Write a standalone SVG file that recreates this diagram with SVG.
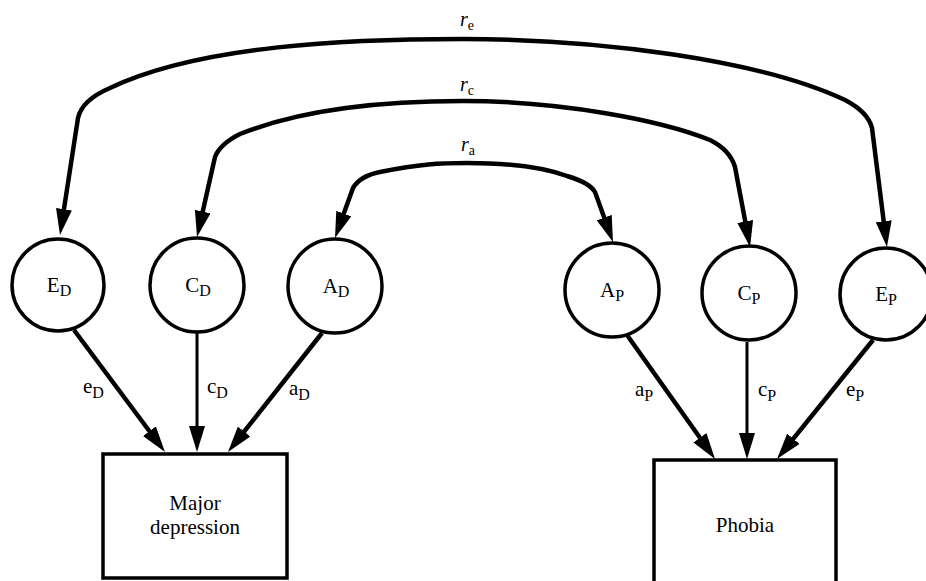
<svg xmlns="http://www.w3.org/2000/svg" width="926" height="581" viewBox="0 0 926 581">
<style>
.n{fill:#fff;stroke:#000;stroke-width:3.5}
.t{font-family:"Liberation Serif","Times New Roman","DejaVu Serif",serif;font-size:21px;fill:#000}
.s{font-size:16px}
.r{font-family:"Liberation Serif","Times New Roman","DejaVu Serif",serif;font-size:20px;font-style:italic;fill:#000}
.rs{font-style:normal;font-size:14px}
.c{fill:none;stroke:#000;stroke-width:4.5;stroke-linejoin:round}
.thin{stroke-width:3}
</style>
<defs>
<marker id="ah" markerUnits="userSpaceOnUse" markerWidth="26" markerHeight="16" viewBox="0 0 26 16" refX="16" refY="8" orient="auto-start-reverse">
<path d="M0,0 L26,8 L0,16 Z" fill="#000"/>
</marker>
</defs>
<rect width="926" height="581" fill="#fff"/>
<g id="connectors">
<path class="c" marker-start="url(#ah)" marker-end="url(#ah)" d="M61.5 225 L78 118 Q82 100 110 88 C200 45 350 39 463 39 C600 39 760 60 845 100 Q868 112 872 128 L885.7 237.1"/>
<path class="c" marker-start="url(#ah)" marker-end="url(#ah)" d="M199.2 227.2 L215 157 Q220 144 240 134 C300 110 380 101 463 101 C560 101 660 120 710 140 Q730 150 735 167 L748.2 237.2"/>
<path class="c" marker-start="url(#ah)" marker-end="url(#ah)" d="M338.4 228.6 L353 188 Q360 176 380 172 C420 164 440 163 467 163 C510 163 545 168 567 176 Q590 183 595 192 L609.6 232.6"/>
<path class="c" marker-end="url(#ah)" d="M74 330 L159 444"/>
<path class="c thin" marker-end="url(#ah)" d="M197 333 L197 442"/>
<path class="c" marker-end="url(#ah)" d="M322 333 L234.2 444.1"/>
<path class="c" marker-end="url(#ah)" d="M627 335 L709.2 450.8"/>
<path class="c thin" marker-end="url(#ah)" d="M747 342 L747 449"/>
<path class="c" marker-end="url(#ah)" d="M873 340 L783.3 451.2"/>
</g>
<g id="labels">
<text class="r" x="460" y="26">r<tspan class="rs" dy="4">e</tspan></text>
<text class="r" x="460" y="91">r<tspan class="rs" dy="4">c</tspan></text>
<text class="r" x="461" y="151">r<tspan class="rs" dy="4">a</tspan></text>
<text class="t" x="83" y="393">e<tspan class="s" dy="5">D</tspan></text>
<text class="t" x="207" y="393">c<tspan class="s" dy="5">D</tspan></text>
<text class="t" x="289" y="395">a<tspan class="s" dy="5">D</tspan></text>
<text class="t" x="635" y="396">a<tspan class="s" dy="5">P</tspan></text>
<text class="t" x="758" y="396">c<tspan class="s" dy="5">P</tspan></text>
<text class="t" x="846" y="396">e<tspan class="s" dy="5">P</tspan></text>
</g>
<g id="ED"><circle class="n" cx="58" cy="285" r="46"/><text class="t" x="59" y="292" text-anchor="middle">E<tspan class="s" dy="4">D</tspan></text></g>
<g id="CD"><circle class="n" cx="197" cy="285" r="47"/><text class="t" x="198" y="292" text-anchor="middle">C<tspan class="s" dy="4">D</tspan></text></g>
<g id="AD"><circle class="n" cx="335" cy="286" r="47"/><text class="t" x="336" y="293" text-anchor="middle">A<tspan class="s" dy="4">D</tspan></text></g>
<g id="AP"><circle class="n" cx="612" cy="290" r="47"/><text class="t" x="612" y="297" text-anchor="middle">A<tspan class="s" dy="4">P</tspan></text></g>
<g id="CP"><circle class="n" cx="749" cy="293" r="47"/><text class="t" x="749" y="300" text-anchor="middle">C<tspan class="s" dy="4">P</tspan></text></g>
<g id="EP"><circle class="n" cx="886" cy="294" r="46"/><text class="t" x="886" y="301" text-anchor="middle">E<tspan class="s" dy="4">P</tspan></text></g>
<g id="MD"><rect class="n" x="103" y="454" width="184" height="124"/><text class="t" x="195" y="510" text-anchor="middle">Major</text><text class="t" x="195" y="534" text-anchor="middle">depression</text></g>
<g id="PH"><rect class="n" x="654" y="460" width="182" height="130"/><text class="t" x="745" y="532" text-anchor="middle">Phobia</text></g>
</svg>
